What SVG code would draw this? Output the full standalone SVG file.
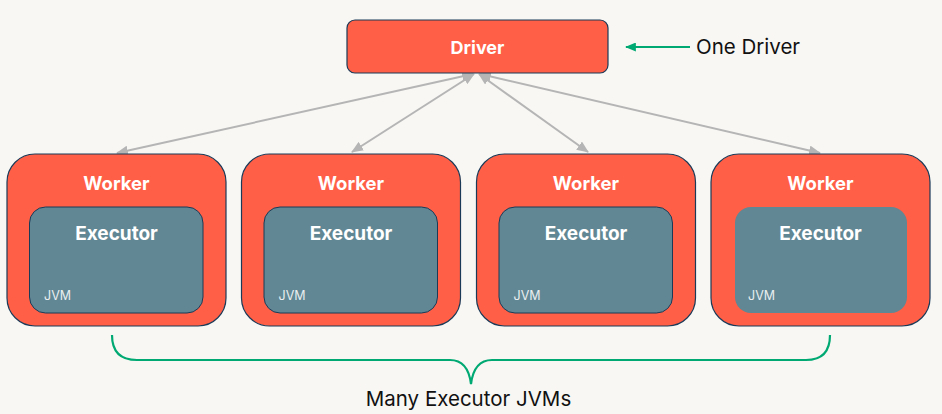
<svg xmlns="http://www.w3.org/2000/svg" width="942" height="414" viewBox="0 0 942 414">
<defs>
<style>
.bg{fill:#F8F7F4}
.orange{fill:#FF5F46;stroke:#1B3A57;stroke-width:1.2}
.exec{fill:#618794;stroke:#1B3A57;stroke-width:1}
.exec-ns{fill:#618794}
.t{font-family:Inter,"Noto Sans","Liberation Sans",sans-serif;fill:#fff;text-anchor:middle}
.b{font-weight:700}
.jvm{font-family:Inter,"Noto Sans","Liberation Sans",sans-serif;fill:#E8EEF0;font-size:12.5px}
.lbl{font-family:Inter,"Noto Sans","Liberation Sans",sans-serif;fill:#111;font-size:20.5px}
.conn{stroke:#B5B5B5;stroke-width:2;fill:none;marker-start:url(#ah);marker-end:url(#ah)}
.green{stroke:#00A972;stroke-width:2.2;fill:none}
</style>
<marker id="ah" viewBox="0 0 12 10" refX="11" refY="5" markerWidth="12" markerHeight="10" markerUnits="userSpaceOnUse" orient="auto-start-reverse">
<path d="M0,0 L12,5 L0,10 z" fill="#B5B5B5"/>
</marker>
<marker id="gh" viewBox="0 0 12 10" refX="11" refY="5" markerWidth="12" markerHeight="9" markerUnits="userSpaceOnUse" orient="auto">
<path d="M0,0 L12,5 L0,10 z" fill="#00A972"/>
</marker>
</defs>
<rect class="bg" x="0" y="0" width="942" height="414"/>

<g id="connectors">
<line class="conn" x1="117" y1="153" x2="473" y2="74"/>
<line class="conn" x1="352" y1="152" x2="474" y2="74"/>
<line class="conn" x1="588" y1="152" x2="479" y2="74"/>
<line class="conn" x1="820" y1="153" x2="480" y2="74"/>
</g>

<g id="driver">
<rect class="orange" x="347" y="20" width="261" height="53" rx="8"/>
<text class="t b" x="477.5" y="53.5" font-size="18">Driver</text>
</g>

<g id="worker1">
<rect class="orange" x="7" y="154" width="219" height="172" rx="28"/>
<text class="t b" x="116.5" y="189.5" font-size="18.5">Worker</text>
<g id="executor1">
<rect class="exec" x="29.5" y="207" width="173.5" height="106" rx="16"/>
<text class="t b" x="116.5" y="239.5" font-size="19">Executor</text>
<text class="jvm" x="44" y="300">JVM</text>
</g>
</g>

<g id="worker2">
<rect class="orange" x="241.5" y="154" width="219" height="172" rx="28"/>
<text class="t b" x="351" y="189.5" font-size="18.5">Worker</text>
<g id="executor2">
<rect class="exec" x="264" y="207" width="173.5" height="106" rx="16"/>
<text class="t b" x="351" y="239.5" font-size="19">Executor</text>
<text class="jvm" x="278.5" y="300">JVM</text>
</g>
</g>

<g id="worker3">
<rect class="orange" x="476.5" y="154" width="219" height="172" rx="28"/>
<text class="t b" x="586" y="189.5" font-size="18.5">Worker</text>
<g id="executor3">
<rect class="exec" x="499" y="207" width="173.5" height="106" rx="16"/>
<text class="t b" x="586" y="239.5" font-size="19">Executor</text>
<text class="jvm" x="513.5" y="300">JVM</text>
</g>
</g>

<g id="worker4">
<rect class="orange" x="711" y="154" width="219" height="172" rx="28"/>
<text class="t b" x="820.5" y="189.5" font-size="18.5">Worker</text>
<g id="executor4">
<rect class="exec-ns" x="735" y="207" width="172" height="106" rx="16"/>
<text class="t b" x="820.5" y="239.5" font-size="19">Executor</text>
<text class="jvm" x="748" y="300">JVM</text>
</g>
</g>

<g id="one-driver-label">
<line class="green" x1="690" y1="47" x2="626" y2="47" marker-end="url(#gh)"/>
<text class="lbl" x="696" y="54">One Driver</text>
</g>

<g id="brace">
<path class="green" d="M112,335 Q112,360 137,360 L450,360 Q468,360 471,384 Q474,360 492,360 L806,360 Q830,360 830,335"/>
<text class="lbl" x="468.5" y="406" text-anchor="middle">Many Executor JVMs</text>
</g>
</svg>
